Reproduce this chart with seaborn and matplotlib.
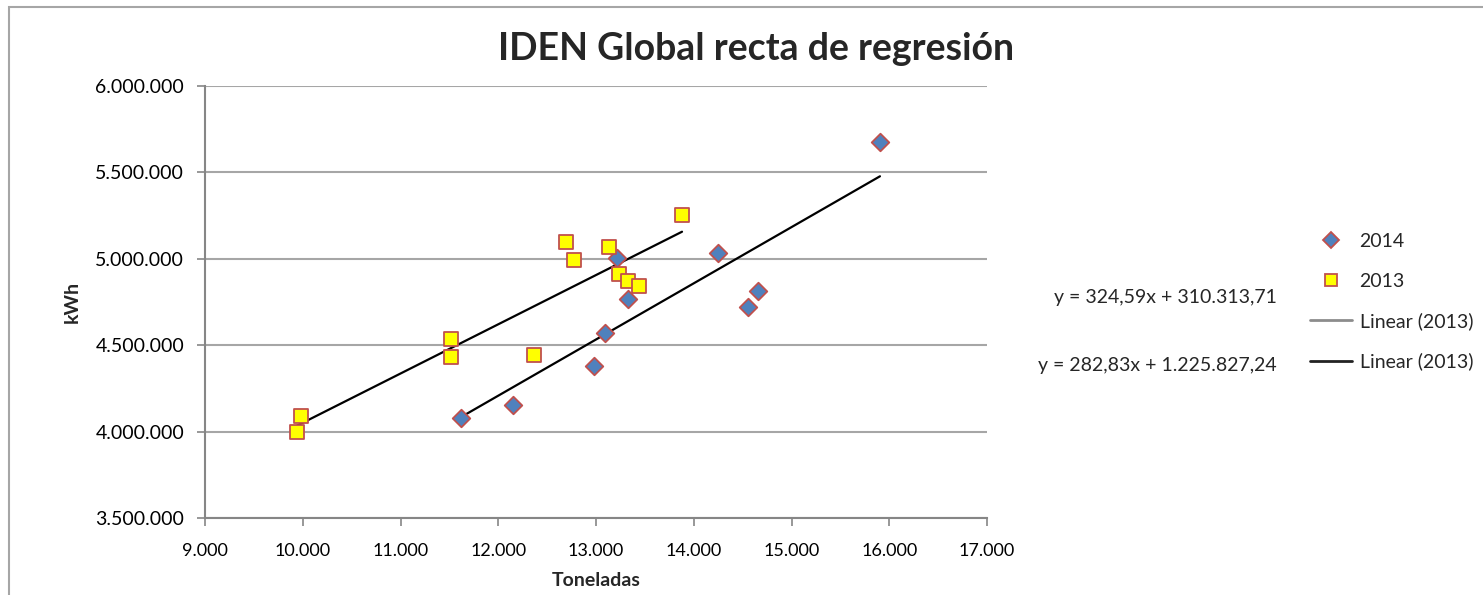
import numpy as np
import pandas as pd
import matplotlib
matplotlib.use("Agg")
import matplotlib.pyplot as plt
from matplotlib.lines import Line2D
from matplotlib.patches import Rectangle
from matplotlib.ticker import FuncFormatter, MultipleLocator
import seaborn as sns

# ---- data ----
ton_2013 = [9941, 9982, 11517, 11517, 12366, 12693, 12775, 13133, 13235, 13327, 13440, 13880]
kwh_2013 = [3997700, 4090000, 4535900, 4431700, 4443300, 5097200, 4993000, 5068300, 4912000, 4871500, 4842600, 5253500]
ton_2014 = [11619, 12151, 12980, 13092, 13215, 13327, 14248, 14555, 14657, 15905]
kwh_2014 = [4078700, 4153900, 4379600, 4570600, 5004600, 4767400, 5033600, 4721100, 4813700, 5675900]
title = "IDEN Global recta de regresión"
eq_texts = ["y = 324,59x + 310.313,71", "y = 282,83x + 1.225.827,24"]
legend_labels = ["2014", "2013", "Linear (2013)", "Linear (2013)"]

df13 = pd.DataFrame({"Toneladas": ton_2013, "kWh": kwh_2013})
df14 = pd.DataFrame({"Toneladas": ton_2014, "kWh": kwh_2014})

sns.set_style("white")
plt.rcParams["font.family"] = ["Lato", "DejaVu Sans"]

W, H = 1483, 595
fig = plt.figure(figsize=(W / 100, H / 100), dpi=100)
ax = fig.add_axes([205 / W, 1 - 518 / H, (987 - 205) / W, (518 - 86) / H])

# outer chart frame
fig.patches.append(Rectangle((9 / W, -0.05), 1.2, 1 - 7 / H + 0.05, transform=fig.transFigure,
                             fill=False, edgecolor="#a6a6a6", linewidth=1.5, zorder=0))

red = "#c0504d"
sns.regplot(data=df13, x="Toneladas", y="kWh", ax=ax, scatter=False, ci=None, truncate=True,
            line_kws=dict(color="black", linewidth=1.6, zorder=3))
sns.regplot(data=df14, x="Toneladas", y="kWh", ax=ax, scatter=False, ci=None, truncate=True,
            line_kws=dict(color="black", linewidth=1.6, zorder=3))
sns.scatterplot(data=df14, x="Toneladas", y="kWh", ax=ax, marker="D", s=80,
                color="#4f81bd", edgecolor=red, linewidth=1.3, zorder=4)
sns.scatterplot(data=df13, x="Toneladas", y="kWh", ax=ax, marker="s", s=95,
                color="#ffff00", edgecolor=red, linewidth=1.3, zorder=5)

ax.set_xlim(9000, 17000)
ax.set_ylim(3500000, 6000000)
ax.xaxis.set_major_locator(MultipleLocator(1000))
ax.yaxis.set_major_locator(MultipleLocator(500000))
fmt = FuncFormatter(lambda v, p: f"{int(round(v)):,}".replace(",", "."))
ax.xaxis.set_major_formatter(fmt)
ax.yaxis.set_major_formatter(fmt)
ax.grid(axis="y", color="#a6a6a6", linewidth=1.5)
ax.grid(axis="x", visible=False)
ax.set_axisbelow(True)
for s in ["top", "right"]:
    ax.spines[s].set_visible(False)
for s in ["left", "bottom"]:
    ax.spines[s].set_color("#868686")
    ax.spines[s].set_linewidth(1.5)
ax.tick_params(axis="both", which="major", direction="out", length=6, width=1.2,
               color="#868686", labelcolor="black", left=True, bottom=True)
ax.tick_params(axis="y", labelsize=14, pad=9)
ax.tick_params(axis="x", labelsize=13, pad=12)

ax.set_xlabel("Toneladas", fontsize=14, fontweight="bold")
ax.set_ylabel("kWh", fontsize=14, fontweight="bold")
ax.xaxis.set_label_coords((596 - 205) / 782, -(581 - 518) / 432)
ax.yaxis.set_label_coords(-(205 - 72) / 782, 0.5)
ax.xaxis.label.set_va("center")
ax.yaxis.label.set_va("center")

fig.text(0.51, 1 - 49 / H, title, ha="center", va="center", fontsize=27, fontweight="bold")
fig.text(1165 / W, 1 - 298 / H, eq_texts[0], ha="center", va="center", fontsize=14)
fig.text(1157 / W, 1 - 366 / H, eq_texts[1], ha="center", va="center", fontsize=14)

handles = [
    Line2D([], [], linestyle="none", marker="D", markersize=8, markerfacecolor="#4f81bd",
           markeredgecolor=red, markeredgewidth=1.3),
    Line2D([], [], linestyle="none", marker="s", markersize=9, markerfacecolor="#ffff00",
           markeredgecolor=red, markeredgewidth=1.3),
    Line2D([], [], color="#8c8c8c", linewidth=2),
    Line2D([], [], color="#222222", linewidth=2),
]
fig.legend(handles, legend_labels, loc="upper left", bbox_to_anchor=(1310 / W, 1 - 233 / H),
           frameon=False, fontsize=14, labelspacing=1.16, handlelength=2.15, handletextpad=0.4,
           borderaxespad=0, borderpad=0)

fig.savefig("out.png", dpi=100)
